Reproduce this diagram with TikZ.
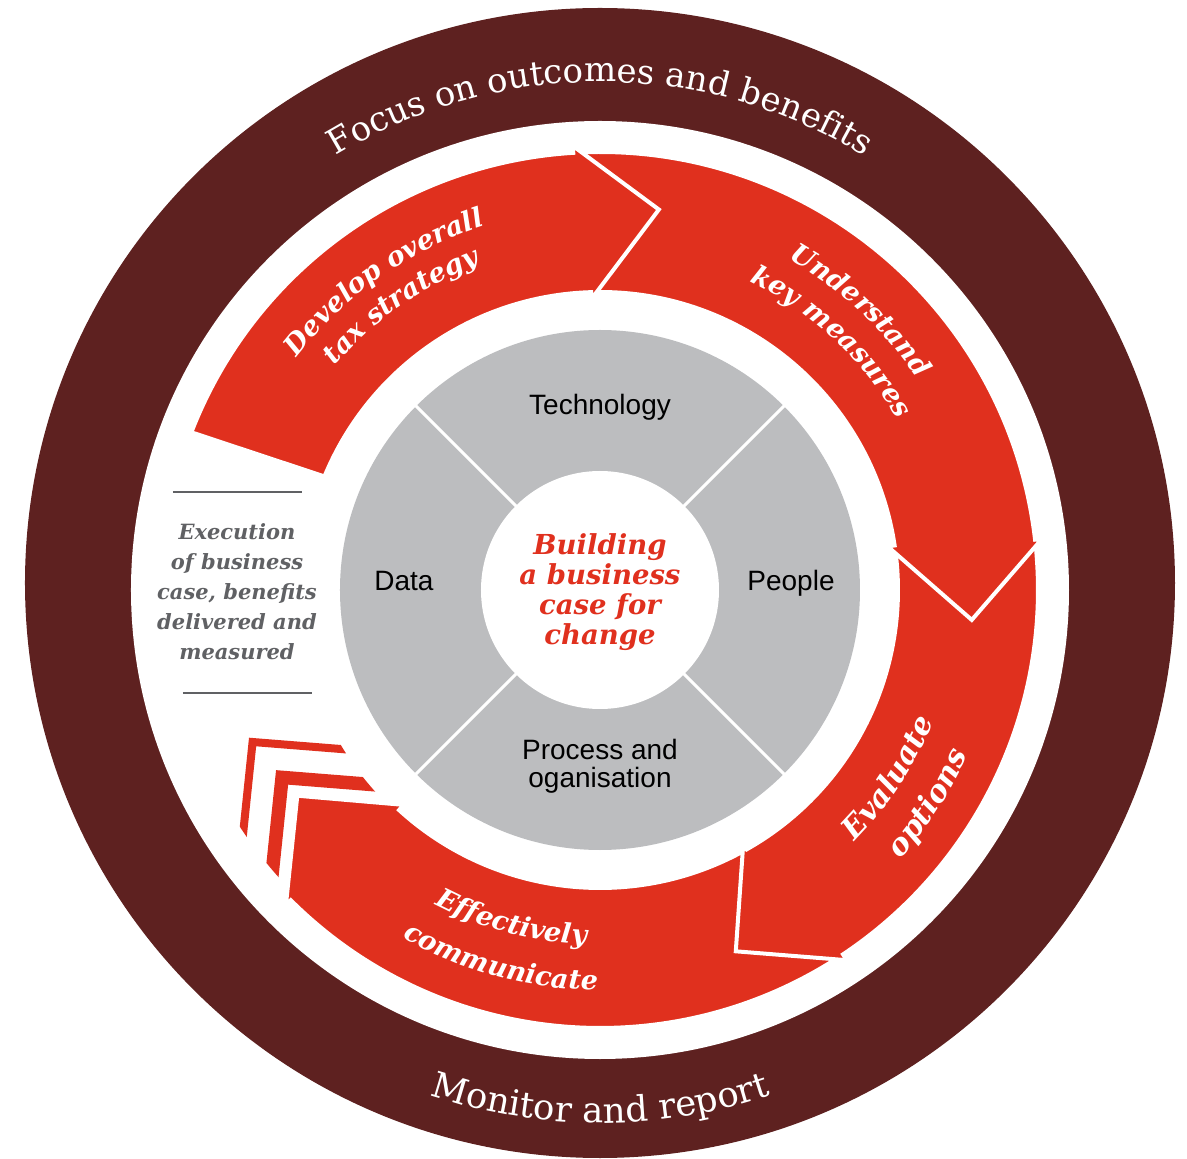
\documentclass[tikz,border=0pt]{standalone}
\usepackage{fontspec}
\setmainfont{DejaVu Serif}
\newfontfamily\lsans{Liberation Sans}
\usetikzlibrary{decorations.text}
\definecolor{ringdark}{HTML}{5E2120}
\definecolor{pwcred}{HTML}{E0301E}
\definecolor{discgray}{HTML}{BCBDBF}
\definecolor{notegray}{HTML}{606164}
\newcommand\arrowlbl{\fontsize{27}{30}\selectfont\bfseries\itshape\color{white}}
\newcommand\arrowlblbig{\fontsize{30}{32}\selectfont\bfseries\itshape\color{white}}
\newcommand\ringlbl{\fontsize{34}{40}\selectfont\color{white}}
\newcommand\ringlblb{\fontsize{35.5}{40}\selectfont\color{white}}
\tikzset{
 arrowshape/.style={fill=pwcred, draw=white, line width=4pt, line join=miter, miter limit=20},
 echoband/.style={draw=pwcred, line join=miter, miter limit=20},
 sectorlbl/.style={font=\lsans\fontsize{28}{28}\selectfont, text=black, anchor=base, inner sep=0pt},
 divider/.style={draw=white, line width=3pt},
 noterule/.style={draw=notegray, line width=2.5pt},
}
\begin{document}
\begin{tikzpicture}[x=1pt,y=1pt]
\useasboundingbox (-600,-569) rectangle (587,590);
% outer dark ring
\fill[ringdark] (0,7) circle (575);
\fill[white] (0,0) circle (469);
\path[decorate,decoration={text along path,text align=center,text={|\ringlbl|Focus on outcomes and benefits}}] (150:508) arc[start angle=150,end angle=30,radius=508];
\path[decorate,decoration={text along path,text align=center,text={|\ringlblb|Monitor and report}}] (230:533) arc[start angle=230,end angle=310,radius=533];
% grey disc
\fill[discgray] (0,0) circle (260);
\fill[white] (0,0) circle (119);
\foreach \a in {45,135,225,315} \draw[divider] (\a:117) -- (\a:262);
\node[sectorlbl] (tech) at (0,175) {Technology};
\node[sectorlbl] (data) at (-196,-1) {Data};
\node[sectorlbl] (people) at (191,-1) {People};
\node[sectorlbl] (proc1) at (0,-170) {Process and};
\node[sectorlbl] (proc2) at (0,-198) {oganisation};
\node[font=\fontsize{27.5}{30}\selectfont\bfseries\itshape, text=pwcred, align=center] (core) at (0,-2) {Building\\a business\\case for\\change};
% note on the left
\node[font=\fontsize{21}{30}\selectfont\bfseries\itshape, text=notegray, align=center] (note) at (-363,-2) {Execution\\of business\\case, benefits\\delivered and\\measured};
\draw[noterule] (-427,98) -- (-298,98);
\draw[noterule] (-417,-103) -- (-288,-103);
% echo chevrons
\begin{scope}
\clip (170:431) arc[start angle=170,end angle=260,radius=431] -- (260:302) arc[start angle=260,end angle=170,radius=302] -- cycle;
\draw[echoband, line width=13.5pt] (-343.7,-436.2) -- (-317.9,-187.4) -- (-68.7,-207.2);
\draw[echoband, line width=8pt] (-373.2,-400.8) -- (-347.4,-152.0) -- (-98.1,-171.8);
\end{scope}
% arrow 4
\path[arrowshape] (-55.5:438) arc[start angle=-55.5,end angle=-134.9,radius=438] -- (-134.9:445) -- (-145.8:366) -- (-132.4:291) -- (-132.4:298) arc[start angle=-132.4,end angle=-59.7,radius=298] -- cycle;
% arrow 3
\path[arrowshape] (7.6:438) arc[start angle=7.6,end angle=-56.3,radius=438] -- (-56.3:445) -- (-69.4:386) -- (-60.5:291) -- (-60.5:298) arc[start angle=-60.5,end angle=9.6,radius=298] -- cycle;
% arrow 2
\path[arrowshape] (94.5:438) arc[start angle=94.5,end angle=6.6,radius=438] -- (6.6:445) -- (-4.6:373) -- (8.6:291) -- (8.6:298) arc[start angle=8.6,end angle=92.7,radius=298] -- cycle;
% arrow 1
\path[arrowshape] (158.9:438) arc[start angle=158.9,end angle=93.5,radius=438] -- (93.5:445) -- (81.2:385) -- (91.7:291) -- (91.7:298) arc[start angle=91.7,end angle=157.6,radius=298] -- cycle;
% arrow labels
\path[decorate,decoration={text along path,text align=center,text={|\arrowlbl|Develop overall}}] (165:382) arc[start angle=165,end angle=85,radius=382];
\path[decorate,decoration={text along path,text align=center,text={|\arrowlbl|tax strategy}}] (165:347) arc[start angle=165,end angle=85,radius=347];
\path[decorate,decoration={text along path,text align=center,text={|\arrowlbl|Understand}}] (87:381) arc[start angle=87,end angle=7,radius=381];
\path[decorate,decoration={text along path,text align=center,text={|\arrowlbl|key measures}}] (87:343) arc[start angle=87,end angle=7,radius=343];
\path[decorate,decoration={text along path,text align=center,text={|\arrowlblbig|Evaluate}}] (-73:358) arc[start angle=-73,end angle=7,radius=358];
\path[decorate,decoration={text along path,text align=center,text={|\arrowlblbig|options}}] (-73:403) arc[start angle=-73,end angle=7,radius=403];
\path[decorate,decoration={text along path,text align=center,text={|\arrowlbl|Effectively}}] (215:355) arc[start angle=215,end angle=295,radius=355];
\path[decorate,decoration={text along path,text align=center,text={|\arrowlbl|communicate}}] (215:400) arc[start angle=215,end angle=295,radius=400];
\end{tikzpicture}
\end{document}
